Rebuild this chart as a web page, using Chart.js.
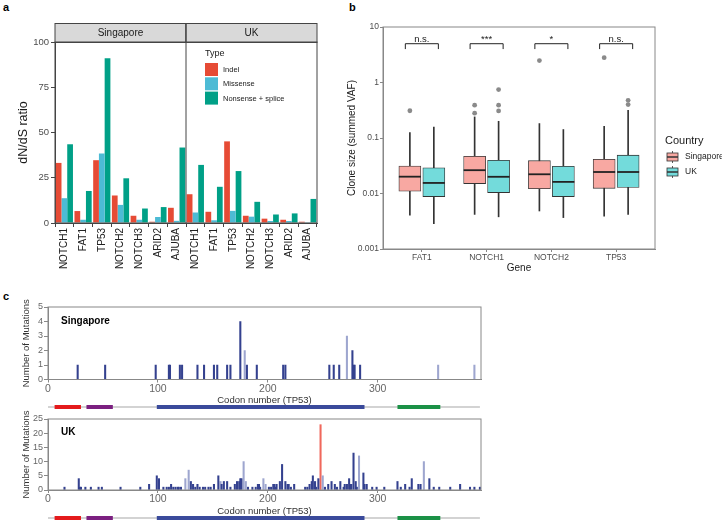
<!DOCTYPE html>
<html>
<head>
<meta charset="utf-8">
<script src="https://cdn.jsdelivr.net/npm/chart.js@4.4.0/dist/chart.umd.min.js"></script>
<style>
  body { margin:0; background:#fff; width:722px; height:522px; overflow:hidden; position:relative;
         font-family:"Liberation Sans", Arial, sans-serif; }
  canvas { position:absolute; }
  .tag { position:absolute; font-weight:bold; font-size:11px; color:#000; }
</style>
</head>
<body>
<div class="tag" style="left:3px;top:1px">a</div>
<div class="tag" style="left:349px;top:1px">b</div>
<div class="tag" style="left:3px;top:290px">c</div>
<canvas id="chartA" width="345" height="290" style="left:0;top:0"></canvas>
<canvas id="chartB" width="377" height="290" style="left:345px;top:0"></canvas>
<canvas id="chartSg" width="500" height="115" style="left:0;top:295px"></canvas>
<canvas id="chartUk" width="500" height="112" style="left:0;top:410px"></canvas>
<script>
const FONT = '"Liberation Sans", Arial, sans-serif';
Chart.defaults.font.family = FONT;

// ---- panel a: dN/dS ratios ----
const genes = ['NOTCH1', 'FAT1', 'TP53', 'NOTCH2', 'NOTCH3', 'ARID2', 'AJUBA'];
const cohorts = ['Singapore', 'UK'];
const sgIndel    = [33.2, 6.6, 34.7, 15.2, 4.0, 0.7, 8.4];
const sgMissense = [13.7, 1.8, 38.4, 10.0, 1.8, 3.3, 1.2];
const sgNonsense = [43.5, 17.7, 91.0, 24.7, 8.0, 8.8, 41.7];
const ukIndel    = [15.9, 6.2, 45.1, 4.0, 2.4, 1.8, 0.7];
const ukMissense = [5.8, 1.5, 6.7, 3.5, 1.1, 1.1, 0.4];
const ukNonsense = [32.1, 20.0, 28.7, 11.7, 4.7, 5.3, 13.3];
const typeNames  = ['Indel', 'Missense', 'Nonsense + splice'];
const typeColors = ['#E64B35', '#4DBBD5', '#00A087'];
const dndsTicks  = [0, 25, 50, 75, 100];

// ---- panel b: clone sizes ----
const vafGenes = ['FAT1', 'NOTCH1', 'NOTCH2', 'TP53'];
const countries = ['Singapore', 'UK'];
const countryColors = ['#F8A8A2', '#73DBDB'];
const sgLow  = [0.00405, 0.0042, 0.00484, 0.0039];
const sgQ1   = [0.011, 0.0151, 0.0122, 0.0124];
const sgMed  = [0.0201, 0.0263, 0.0222, 0.0244];
const sgQ3   = [0.0313, 0.0468, 0.039, 0.0413];
const sgHigh = [0.125, 0.24, 0.182, 0.162];
const sgOut  = [[0.31], [0.28, 0.39], [2.48], [2.8]];
const ukLow  = [0.00286, 0.0038, 0.00368, 0.0042];
const ukQ1   = [0.0088, 0.0104, 0.0088, 0.0129];
const ukMed  = [0.0155, 0.02, 0.0162, 0.0244];
const ukQ3   = [0.029, 0.0398, 0.0309, 0.049];
const ukHigh = [0.158, 0.2, 0.142, 0.316];
const ukOut  = [[], [0.307, 0.39, 0.745], [], [0.4, 0.478]];
const sigLabels = ['n.s.', '***', '*', 'n.s.'];
const vafTicks = [0.001, 0.01, 0.1, 1, 10];

// ---- panel c: TP53 mutations per codon ----
const sgCodons = [27, 52, 98, 110, 111, 120, 122, 136, 142, 151, 154, 163, 166, 175, 179, 181, 190, 214, 216,
                  256, 260, 265, 272, 277, 278, 279, 284, 355, 388];
const sgCounts = [1, 1, 1, 1, 1, 1, 1, 1, 1, 1, 1, 1, 1, 4, 2, 1, 1, 1, 1,
                  1, 1, 1, 3, 2, 1, 1, 1, 1, 1];
const sgLight = [179, 272, 355, 388];
const ukCodons = [15, 28, 29, 30, 34, 39, 46, 49, 66, 84, 92, 99, 101, 105, 108, 110, 112, 114, 116, 118, 119, 121,
                  125, 128, 130, 132, 134, 136, 138, 141, 143, 146, 148, 151, 155, 157, 158, 160, 163, 166, 170, 172,
                  174, 175, 176, 178, 180, 182, 186, 189, 191, 192, 193, 196, 198, 201, 203, 205, 206, 207, 208, 211,
                  213, 216, 218, 219, 221, 224, 234, 236, 238, 240, 241, 243, 244, 246, 248, 250, 252, 255, 258, 261,
                  263, 266, 269, 270, 272, 274, 275, 276, 278, 280, 281, 283, 287, 288, 290, 295, 299, 306, 318, 321,
                  325, 329, 331, 337, 339, 342, 347, 351, 356, 366, 375, 384, 388, 393];
const ukCounts = [1, 4, 1, 1, 1, 1, 1, 1, 1, 1, 2, 5, 4, 1, 1, 1, 2, 1, 1, 1, 1, 1,
                  4, 7, 3, 2, 1, 2, 1, 1, 1, 1, 1, 2, 5, 3, 2, 3, 3, 1, 2, 3,
                  3, 4, 4, 10, 3, 1, 1, 1, 2, 2, 1, 4, 2, 1, 1, 2, 2, 1, 2, 3,
                  9, 3, 2, 2, 1, 2, 1, 1, 2, 3, 5, 3, 1, 4, 23, 5, 1, 2, 3, 2,
                  1, 3, 1, 2, 2, 4, 2, 2, 13, 3, 1, 12, 6, 2, 2, 1, 1, 1, 3, 1,
                  2, 1, 4, 2, 2, 10, 4, 1, 1, 1, 2, 1, 1, 1];
const ukLight = [125, 128, 157, 178, 180, 196, 198, 250, 283, 342];
const ukHot = [248];
const codonTicks = [0, 100, 200, 300];
const sgCountTicks = [0, 1, 2, 3, 4, 5];
const ukCountTicks = [0, 5, 10, 15, 20, 25];
const domainStart = [6, 35, 99, 318];
const domainEnd   = [30, 59, 288, 357];
const domainColors = ['#E41A1C', '#7B1F80', '#3A4A9B', '#1B9146'];
const proteinLength = 393;

// ---------------- panel a ----------------
const facetPlugin = {
  id: 'facets',
  afterDraw(c) {
    const ctx = c.ctx, a = c.chartArea, x = c.scales.x;
    const mid = (x.getPixelForValue(genes.length - 1) + x.getPixelForValue(genes.length)) / 2;
    const stripTop = 23;
    ctx.save();
    [[a.left, mid], [mid, a.right]].forEach(([l, r], i) => {
      ctx.fillStyle = '#d9d9d9';
      ctx.fillRect(l, stripTop, r - l, a.top - stripTop);
      ctx.strokeStyle = '#444';
      ctx.lineWidth = 1;
      ctx.strokeRect(l, stripTop + 0.5, r - l, a.top - stripTop);
      ctx.fillStyle = '#1a1a1a';
      ctx.font = '10px ' + FONT;
      ctx.textAlign = 'center';
      ctx.textBaseline = 'middle';
      ctx.fillText(cohorts[i], (l + r) / 2, (stripTop + a.top) / 2 + 1);
    });
    ctx.strokeStyle = '#444';
    ctx.strokeRect(a.left, a.top, a.right - a.left, a.bottom - a.top);
    ctx.beginPath();
    ctx.moveTo(mid, stripTop);
    ctx.lineTo(mid, a.bottom);
    ctx.stroke();
    // legend
    ctx.textAlign = 'left';
    ctx.fillStyle = '#1a1a1a';
    ctx.font = '9px ' + FONT;
    ctx.fillText('Type', 205, 54);
    c.data.datasets.forEach((ds, i) => {
      const top = 63 + i * 14.3;
      ctx.fillStyle = ds.backgroundColor;
      ctx.fillRect(205, top, 13, 13);
      ctx.fillStyle = '#1a1a1a';
      ctx.font = '7.5px ' + FONT;
      ctx.fillText(ds.label, 223, top + 7);
    });
    ctx.restore();
  }
};

const sgSeries = [sgIndel, sgMissense, sgNonsense];
const ukSeries = [ukIndel, ukMissense, ukNonsense];
new Chart(document.getElementById('chartA'), {
  type: 'bar',
  data: {
    labels: genes.concat(genes),
    datasets: typeNames.map((n, i) => ({
      label: n,
      data: sgSeries[i].concat(ukSeries[i]),
      backgroundColor: typeColors[i],
      categoryPercentage: 0.92,
      barPercentage: 1
    }))
  },
  options: {
    responsive: false,
    animation: false,
    layout: { padding: { left: 16, top: 42, right: 28, bottom: 0 } },
    plugins: { legend: { display: false }, tooltip: { enabled: false } },
    scales: {
      x: {
        grid: { drawOnChartArea: false, tickLength: 4, color: '#444' },
        border: { color: '#444' },
        ticks: { minRotation: 90, maxRotation: 90, autoSkip: false, color: '#222', font: { size: 10 }, padding: 1 },
        afterFit(s) { s.height = 67; }
      },
      y: {
        min: 0, max: 100,
        afterBuildTicks(s) { s.ticks = dndsTicks.map(v => ({ value: v })); },
        grid: { drawOnChartArea: false, tickLength: 4, color: '#444' },
        border: { color: '#444' },
        ticks: { color: '#4d4d4d', font: { size: 9.5 }, padding: 2, autoSkip: false },
        title: { display: true, text: 'dN/dS ratio', color: '#1a1a1a', font: { size: 12.5 }, padding: 0 },
        afterFit(s) { s.width = 39; }
      }
    }
  },
  plugins: [facetPlugin]
});

// ---------------- panel b ----------------
const dodge = 0.185;
const boxes = (q1, q3, off) => q1.map((v, i) => ({ x: i + 1 + off, y: [v, q3[i]] }));
const whiskers = (lo, hi, off) => lo.map((v, i) => ({ x: i + 1 + off, y: [v, hi[i]] }));
const outliers = (out, off) => out.flatMap((vals, i) => vals.map(v => ({ x: i + 1 + off, y: v })));

const boxPlugin = {
  id: 'boxExtras',
  afterDatasetsDraw(c) {
    const ctx = c.ctx, a = c.chartArea, x = c.scales.x, y = c.scales.y;
    ctx.save();
    // medians
    [sgMed, ukMed].forEach((med, d) => {
      c.getDatasetMeta(d).data.forEach((bar, j) => {
        const py = y.getPixelForValue(med[j]);
        ctx.strokeStyle = '#222';
        ctx.lineWidth = 1.8;
        ctx.beginPath();
        ctx.moveTo(bar.x - bar.width / 2, py);
        ctx.lineTo(bar.x + bar.width / 2, py);
        ctx.stroke();
      });
    });
    // significance brackets
    sigLabels.forEach((lab, i) => {
      const x1 = x.getPixelForValue(i + 1 - 0.255), x2 = x.getPixelForValue(i + 1 + 0.255);
      const yt = y.getPixelForValue(5), yl = y.getPixelForValue(4);
      ctx.strokeStyle = '#222';
      ctx.lineWidth = 1;
      ctx.beginPath();
      ctx.moveTo(x1, yl); ctx.lineTo(x1, yt); ctx.lineTo(x2, yt); ctx.lineTo(x2, yl);
      ctx.stroke();
      ctx.fillStyle = '#222';
      ctx.font = '9.5px ' + FONT;
      ctx.textAlign = 'center';
      ctx.textBaseline = 'alphabetic';
      ctx.fillText(lab, (x1 + x2) / 2, yt - 2);
    });
    // frame
    ctx.strokeStyle = '#888';
    ctx.lineWidth = 1;
    ctx.strokeRect(a.left, a.top, a.right - a.left, a.bottom - a.top);
    // legend
    ctx.fillStyle = '#1a1a1a';
    ctx.textAlign = 'left';
    ctx.textBaseline = 'middle';
    ctx.font = '11px ' + FONT;
    ctx.fillText('Country', 320, 141);
    countries.forEach((name, i) => {
      const cy = 157 + i * 15, l = 322, w = 11;
      ctx.strokeStyle = '#333';
      ctx.lineWidth = 0.8;
      ctx.beginPath();
      ctx.moveTo(l + w / 2, cy - 6); ctx.lineTo(l + w / 2, cy + 6);
      ctx.stroke();
      ctx.fillStyle = countryColors[i];
      ctx.fillRect(l, cy - 4, w, 8);
      ctx.strokeRect(l, cy - 4, w, 8);
      ctx.lineWidth = 1.5;
      ctx.beginPath();
      ctx.moveTo(l, cy); ctx.lineTo(l + w, cy);
      ctx.stroke();
      ctx.fillStyle = '#1a1a1a';
      ctx.font = '8.5px ' + FONT;
      ctx.fillText(name, 340, cy);
    });
    ctx.restore();
  }
};

new Chart(document.getElementById('chartB'), {
  type: 'bar',
  data: {
    datasets: [
      { label: countries[0], data: boxes(sgQ1, sgQ3, -dodge), backgroundColor: countryColors[0],
        borderColor: '#333', borderWidth: 0.8, borderSkipped: false, barThickness: 22, grouped: false, order: 2 },
      { label: countries[1], data: boxes(ukQ1, ukQ3, dodge), backgroundColor: countryColors[1],
        borderColor: '#333', borderWidth: 0.8, borderSkipped: false, barThickness: 22, grouped: false, order: 2 },
      { label: 'whiskers', data: whiskers(sgLow, sgHigh, -dodge).concat(whiskers(ukLow, ukHigh, dodge)),
        backgroundColor: '#333', barThickness: 1, grouped: false, order: 3 },
      { type: 'scatter', label: 'outliers', data: outliers(sgOut, -dodge).concat(outliers(ukOut, dodge)),
        backgroundColor: '#8a8a8a', borderWidth: 0, pointRadius: 2.4, order: 1 }
    ]
  },
  options: {
    responsive: false,
    animation: false,
    layout: { padding: { left: 1, top: 27, right: 67, bottom: 16 } },
    plugins: { legend: { display: false }, tooltip: { enabled: false } },
    scales: {
      x: {
        type: 'linear', min: 0.4, max: 4.6, offset: false,
        afterBuildTicks(s) { s.ticks = vafGenes.map((g, i) => ({ value: i + 1 })); },
        grid: { drawOnChartArea: false, offset: false, tickLength: 3, color: '#888' },
        border: { color: '#888' },
        ticks: { color: '#4d4d4d', font: { size: 8.5 }, padding: 1, autoSkip: false, callback: v => vafGenes[v - 1] },
        title: { display: true, text: 'Gene', color: '#1a1a1a', font: { size: 10 }, padding: 0 },
        afterFit(s) { s.height = 25; }
      },
      y: {
        type: 'logarithmic', min: 0.001, max: 10,
        afterBuildTicks(s) { s.ticks = vafTicks.map(v => ({ value: v })); },
        grid: { drawOnChartArea: false, tickLength: 3, color: '#888' },
        border: { color: '#888' },
        ticks: { color: '#4d4d4d', font: { size: 8.5 }, padding: 1, autoSkip: false, callback: v => String(v) },
        title: { display: true, text: 'Clone size (summed VAF)', color: '#1a1a1a', font: { size: 10 }, padding: 0 },
        afterFit(s) { s.width = 37; }
      }
    }
  },
  plugins: [boxPlugin]
});

// ---------------- panel c ----------------
const trackPlugin = {
  id: 'track',
  afterDraw(c, args, opts) {
    const ctx = c.ctx, a = c.chartArea, x = c.scales.x;
    ctx.save();
    ctx.strokeStyle = '#888';
    ctx.lineWidth = 1;
    ctx.strokeRect(a.left, a.top, a.right - a.left, a.bottom - a.top);
    ctx.fillStyle = '#000';
    ctx.font = 'bold 10px ' + FONT;
    ctx.textAlign = 'left';
    ctx.textBaseline = 'middle';
    ctx.fillText(opts.name, 61, opts.nameY);
    // protein domains
    ctx.lineCap = 'butt';
    ctx.strokeStyle = '#d3d3d3';
    ctx.lineWidth = 2;
    ctx.beginPath();
    ctx.moveTo(x.getPixelForValue(0), opts.domainY);
    ctx.lineTo(x.getPixelForValue(proteinLength), opts.domainY);
    ctx.stroke();
    ctx.lineWidth = 4;
    domainStart.forEach((s, i) => {
      ctx.strokeStyle = domainColors[i];
      ctx.beginPath();
      ctx.moveTo(x.getPixelForValue(s), opts.domainY);
      ctx.lineTo(x.getPixelForValue(domainEnd[i]), opts.domainY);
      ctx.stroke();
    });
    ctx.restore();
  }
};

function trackChart(id, codons, counts, light, hot, countTicks, name, padTop, padBottom, nameY, domainY) {
  const pts = codons.map((c, i) => ({ x: c, y: counts[i] }));
  const mk = (data, color) => ({ data, backgroundColor: color, barThickness: 1.4, grouped: false });
  return new Chart(document.getElementById(id), {
    type: 'bar',
    data: {
      datasets: [
        mk(pts.filter(p => !light.includes(p.x) && !hot.includes(p.x)), '#34418f'),
        mk(pts.filter(p => light.includes(p.x)), '#9ea6cf'),
        mk(pts.filter(p => hot.includes(p.x)), '#F0685C')
      ]
    },
    options: {
      responsive: false,
      animation: false,
      layout: { padding: { left: 21, top: padTop, right: 19, bottom: padBottom } },
      plugins: { legend: { display: false }, tooltip: { enabled: false },
                 track: { name, nameY, domainY } },
      scales: {
        x: {
          type: 'linear', min: 0, max: 394, offset: false,
          afterBuildTicks(s) { s.ticks = codonTicks.map(v => ({ value: v })); },
          grid: { drawOnChartArea: false, offset: false, tickLength: 3, color: '#888' },
          border: { color: '#888' },
          ticks: { color: '#666', font: { size: 10.5 }, padding: 0, autoSkip: false },
          title: { display: true, text: 'Codon number (TP53)', color: '#333', font: { size: 9.5 }, padding: 0 },
          afterFit(s) { s.height = 27; }
        },
        y: {
          min: countTicks[0], max: countTicks[countTicks.length - 1],
          afterBuildTicks(s) { s.ticks = countTicks.map(v => ({ value: v })); },
          grid: { drawOnChartArea: false, tickLength: 4, color: '#888' },
          border: { color: '#888' },
          ticks: { color: '#666', font: { size: 9 }, padding: 1, autoSkip: false },
          title: { display: true, text: 'Number of Mutations', color: '#333', font: { size: 9.5 }, padding: 0 },
          afterFit(s) { s.width = 27; }
        }
      }
    },
    plugins: [trackPlugin]
  });
}

trackChart('chartSg', sgCodons, sgCounts, sgLight, [], sgCountTicks, 'Singapore', 12, 3.5, 26, 112);
trackChart('chartUk', ukCodons, ukCounts, ukLight, ukHot, ukCountTicks, 'UK', 9, 5, 22, 108);
</script>
</body>
</html>
